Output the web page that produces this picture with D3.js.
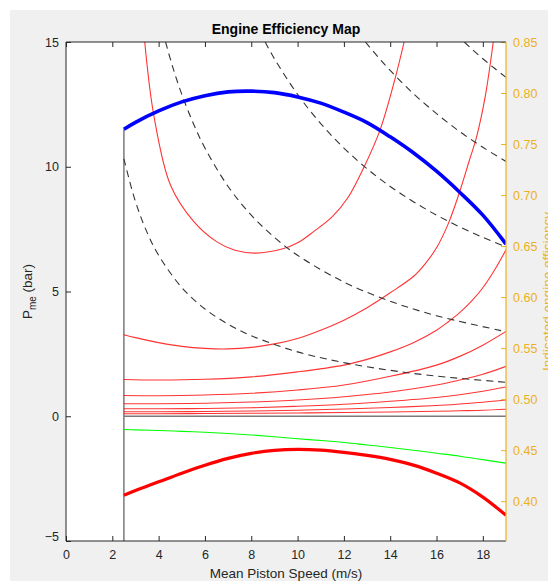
<!DOCTYPE html>
<html>
<head>
<meta charset="utf-8">
<script src="https://cdn.jsdelivr.net/npm/d3@7"></script>
<style>
  body { margin: 0; background: #fff; }
  svg { display: block; font-family: "Liberation Sans", Arial, sans-serif; }
  .tick text { font-size: 12.5px; fill: #262626; }
  .axis-right .tick text { fill: #EDB120; }
</style>
</head>
<body>
<svg id="chart" width="548" height="581"></svg>
<script>
// ---- data ----
const speedGrid = [2.5, 3, 4, 5, 6, 7, 8, 9, 10, 11, 12, 13, 14, 15, 16, 17, 18, 19];
const fullLoadPme = [11.5, 11.78, 12.24, 12.6, 12.85, 13.0, 13.03, 12.97, 12.8, 12.55, 12.19, 11.77, 11.2, 10.56, 9.82, 8.98, 8.06, 6.9];
const frictionPme = [-3.17, -2.98, -2.63, -2.28, -1.96, -1.69, -1.49, -1.37, -1.33, -1.36, -1.45, -1.57, -1.73, -1.96, -2.28, -2.67, -3.24, -3.97];
const greenPme = [-0.53, -0.545, -0.57, -0.605, -0.64, -0.69, -0.75, -0.82, -0.9, -0.97, -1.05, -1.15, -1.25, -1.36, -1.48, -1.6, -1.74, -1.88];

// iso-efficiency contours (thin red)
const effSpeed1 = [3.4, 3.79, 4.51, 5.52, 6.5, 7.3, 8.18, 9.4, 10, 10.69, 11.5, 12.2, 12.84, 13.56, 14.21, 14.6];
const effPme1 = [15, 12.07, 9.27, 7.8, 7.0, 6.65, 6.54, 6.72, 6.95, 7.4, 8.0, 8.8, 9.93, 11.47, 13.53, 15];
const effSpeed2 = [2.5, 3, 4, 5, 6, 7, 8, 9, 10, 11, 12, 13, 14, 15, 15.5, 16, 16.5, 17, 17.4, 17.73, 18.1, 18.45];
const effPme2 = [3.27, 3.15, 2.95, 2.8, 2.72, 2.7, 2.76, 2.9, 3.12, 3.45, 3.85, 4.35, 4.95, 5.6, 6.1, 6.75, 7.7, 9.0, 10.2, 11.2, 12.8, 15];
const effSpeed3 = [2.5, 4, 6, 8, 10, 12, 13, 14, 15, 16, 16.5, 17, 17.5, 18, 18.5, 19];
const effPme3 = [1.47, 1.45, 1.48, 1.58, 1.78, 2.05, 2.28, 2.58, 2.95, 3.45, 3.78, 4.15, 4.6, 5.15, 5.85, 6.67];
const effSpeedLow = [2.5, 4, 6, 8, 10, 12, 14, 16, 17, 18, 19];
const effPmeLow = [
  [0.83, 0.82, 0.85, 0.92, 1.05, 1.25, 1.6, 2.05, 2.4, 2.85, 3.4],
  [0.5, 0.5, 0.52, 0.57, 0.65, 0.78, 0.97, 1.25, 1.45, 1.68, 2.0],
  [0.3, 0.3, 0.31, 0.34, 0.4, 0.48, 0.6, 0.75, 0.86, 1.0, 1.17],
  [0.18, 0.18, 0.19, 0.21, 0.24, 0.29, 0.35, 0.43, 0.49, 0.56, 0.65],
  [0.1, 0.1, 0.11, 0.12, 0.13, 0.15, 0.17, 0.2, 0.22, 0.24, 0.28]
];

// iso-power lines (dashed)
const powerSpeed = [
  [2.5, 3, 3.5, 4, 5, 6, 7, 8, 10, 12, 14, 16, 19],
  [4.3, 4.6, 5, 5.5, 6, 7, 8, 9, 10, 12, 14, 16, 19],
  [8.6, 9, 10, 11, 12, 13, 14, 15, 16, 17, 18, 19],
  [12.93, 13.5, 14, 15, 16, 17, 18, 19],
  [17.2, 17.5, 18, 18.5, 19]
];
const powerPme = [
  [10.32, 8.6, 7.37, 6.45, 5.16, 4.3, 3.69, 3.23, 2.58, 2.15, 1.84, 1.61, 1.36],
  [15, 14.02, 12.9, 11.73, 10.75, 9.21, 8.06, 7.17, 6.45, 5.38, 4.61, 4.03, 3.39],
  [15, 14.33, 12.9, 11.73, 10.75, 9.92, 9.21, 8.6, 8.06, 7.59, 7.17, 6.79],
  [15, 14.37, 13.86, 12.93, 12.13, 11.41, 10.78, 10.21],
  [15, 14.74, 14.33, 13.95, 13.58]
];

const minSpeed = 2.5;
const xTicks = [0, 2, 4, 6, 8, 10, 12, 14, 16, 18];
const yTicks = [-5, 0, 5, 10, 15];
const effTicks = [0.4, 0.45, 0.5, 0.55, 0.6, 0.65, 0.7, 0.75, 0.8, 0.85];

// ---- layout ----
const svg = d3.select("#chart");
const m = { left: 66, right: 506, top: 42, bottom: 541 };
const axisCol = "#262626", effCol = "#EDB120";

const x = d3.scaleLinear().domain([0, 19]).range([m.left, m.right]);
const y = d3.scaleLinear().domain([-5, 15]).range([m.bottom, m.top]);
const yEff = d3.scaleLinear().domain([0.361, 0.85]).range([m.bottom, m.top]);

svg.append("rect").attr("x", 10).attr("y", 10).attr("width", 538).attr("height", 571).attr("fill", "#f0f0f0");
svg.append("rect").attr("x", m.left).attr("y", m.top).attr("width", m.right - m.left).attr("height", m.bottom - m.top).attr("fill", "#fff");

svg.append("clipPath").attr("id", "plotClip")
  .append("rect").attr("x", m.left).attr("y", m.top).attr("width", m.right - m.left).attr("height", m.bottom - m.top);

const plot = svg.append("g").attr("clip-path", "url(#plotClip)");

const line = d3.line()
  .x(d => x(d[0]))
  .y(d => y(d[1]))
  .curve(d3.curveCatmullRom.alpha(0.5));

const pairs = (xs, ys) => xs.map((v, i) => [v, ys[i]]);

// reference lines
plot.append("line")
  .attr("x1", x(minSpeed)).attr("x2", x(minSpeed))
  .attr("y1", y(-5)).attr("y2", y(fullLoadPme[0]))
  .attr("stroke", "#7a7a7a").attr("stroke-width", 1.5);
plot.append("line")
  .attr("x1", x(minSpeed)).attr("x2", x(19))
  .attr("y1", y(0)).attr("y2", y(0))
  .attr("stroke", "#7a7a7a").attr("stroke-width", 1.5);

// efficiency contours
const effCurves = [pairs(effSpeed1, effPme1), pairs(effSpeed2, effPme2), pairs(effSpeed3, effPme3)]
  .concat(effPmeLow.map(vals => pairs(effSpeedLow, vals)));
plot.selectAll(".eff")
  .data(effCurves)
  .join("path")
  .attr("class", "eff")
  .attr("d", line)
  .attr("fill", "none")
  .attr("stroke", "#ff0000")
  .attr("stroke-opacity", 0.8)
  .attr("stroke-width", 1.1);

// iso-power lines
plot.selectAll(".power")
  .data(powerSpeed.map((xs, i) => pairs(xs, powerPme[i])))
  .join("path")
  .attr("class", "power")
  .attr("d", line)
  .attr("fill", "none")
  .attr("stroke", "#333")
  .attr("stroke-width", 1.1)
  .attr("stroke-dasharray", "7,5");

// green line
plot.append("path")
  .attr("d", line(pairs(speedGrid, greenPme)))
  .attr("fill", "none").attr("stroke", "#00ff00").attr("stroke-width", 1.1);

// friction (thick red)
plot.append("path")
  .attr("d", line(pairs(speedGrid, frictionPme)))
  .attr("fill", "none").attr("stroke", "#ff0000").attr("stroke-width", 3.2);

// full load (thick blue)
plot.append("path")
  .attr("d", line(pairs(speedGrid, fullLoadPme)))
  .attr("fill", "none").attr("stroke", "#0000ff").attr("stroke-width", 3.6);

// ---- axes ----
svg.append("g")
  .attr("transform", `translate(0,${m.bottom})`)
  .call(d3.axisBottom(x).tickValues(xTicks).tickSizeInner(-5).tickSizeOuter(0).tickPadding(9));
svg.append("g")
  .attr("transform", `translate(0,${m.top})`)
  .call(d3.axisTop(x).tickValues(xTicks).tickSizeInner(-5).tickSizeOuter(0).tickFormat(""));
const lAxis = svg.append("g")
  .attr("transform", `translate(${m.left},0)`)
  .call(d3.axisLeft(y).tickValues(yTicks).tickSizeInner(-5).tickSizeOuter(0).tickPadding(7));
// lowest label sits a little above its tick, as in the original
lAxis.selectAll(".tick").filter(d => d === -5).select("text").attr("y", -5);
const rAxis = svg.append("g")
  .attr("class", "axis-right")
  .attr("transform", `translate(${m.right},0)`)
  .call(d3.axisRight(yEff).tickValues(effTicks).tickSizeInner(-5).tickSizeOuter(0).tickPadding(7));

svg.selectAll(".domain").remove();
svg.selectAll(".tick line").attr("stroke", axisCol);
rAxis.selectAll(".tick line").attr("stroke", effCol);

// box
svg.append("path")
  .attr("d", `M${m.right},${m.top}H${m.left}V${m.bottom}H${m.right}`)
  .attr("fill", "none").attr("stroke", axisCol).attr("stroke-width", 1);
svg.append("line")
  .attr("x1", m.right).attr("x2", m.right).attr("y1", m.top).attr("y2", m.bottom)
  .attr("stroke", effCol).attr("stroke-width", 1.2);

// ---- labels ----
svg.append("text")
  .attr("x", (m.left + m.right) / 2).attr("y", 34)
  .attr("text-anchor", "middle")
  .attr("font-size", 14).attr("font-weight", "bold").attr("fill", "#000")
  .text("Engine Efficiency Map");

svg.append("text")
  .attr("x", (m.left + m.right) / 2).attr("y", 578)
  .attr("text-anchor", "middle")
  .attr("font-size", 13.5).attr("fill", axisCol)
  .text("Mean Piston Speed (m/s)");

const yLab = svg.append("text")
  .attr("transform", `translate(32,${(m.top + m.bottom) / 2}) rotate(-90)`)
  .attr("text-anchor", "middle")
  .attr("font-size", 13.5).attr("fill", axisCol);
yLab.append("tspan").text("P");
yLab.append("tspan").attr("font-size", 10).attr("dy", 4).text("me");
yLab.append("tspan").attr("dy", -4).text(" (bar)");

// right label runs off the figure edge, as in the original
svg.append("text")
  .attr("transform", `translate(552,${(m.top + m.bottom) / 2}) rotate(-90)`)
  .attr("text-anchor", "middle")
  .attr("font-size", 13.5).attr("fill", effCol)
  .text("Indicated engine efficiency");
</script>
</body>
</html>
